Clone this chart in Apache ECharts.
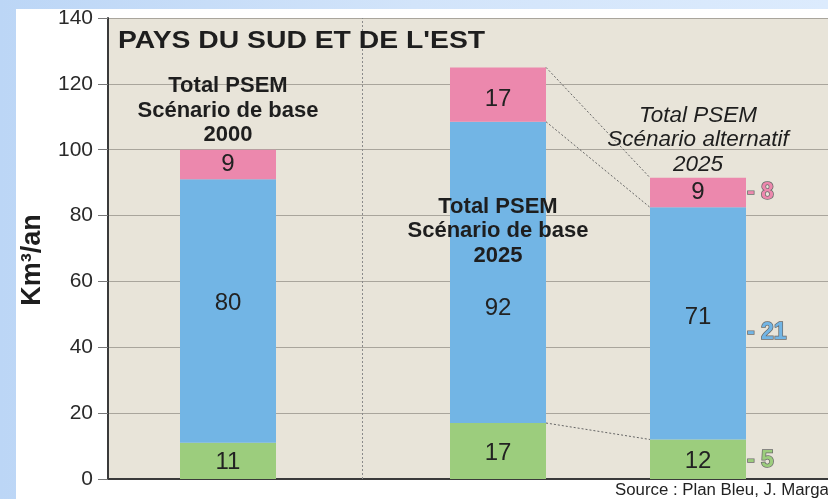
<!DOCTYPE html>
<html><head><meta charset="utf-8">
<script src="https://cdn.jsdelivr.net/npm/echarts@6/dist/echarts.min.js"></script>
<style>
html,body{margin:0;padding:0;}
body{width:828px;height:499px;background:linear-gradient(90deg,#bcd6f6 0%,#d2e4fa 50%,#dcebfd 100%);position:relative;overflow:hidden;}
#panel{position:absolute;left:16px;top:9px;right:0;bottom:0;background:#fff;}
#c{position:absolute;left:0;top:0;width:828px;height:499px;}
</style></head>
<body><div id="panel"></div><div id="c"></div>
<script>
// Data
const scenarios = ['Total PSEM\nScénario de base\n2000', 'Total PSEM\nScénario de base\n2025', 'Total PSEM\nScénario alternatif\n2025'];
const slot = [12, 39, 59];                 // slot index of each column on a 73-slot axis
const green = [11, 17, 12];
const blue = [80, 91.5, 70.5];
const pink = [9, 16.5, 9];
const yTicks = [0, 20, 40, 60, 80, 100, 120, 140];
const annotY = [111.8, 75.2, 103.0];
const diffs = ['- 8', '- 21', '- 5'];
const dividerSlot = 25.4;

const NSLOT = 73;
const slots = Array.from({length: NSLOT}, (_, i) => String(i));
const C_GREEN = '#9ccd7d', C_BLUE = '#72b5e5', C_PINK = '#ec88ad';
const FONT = '"Liberation Sans", Arial, sans-serif';
const HALF = 4.8; // half bar width in slots (96px / 10px per slot / 2)

const chart = echarts.init(document.getElementById('c'), null, {renderer: 'canvas'});

function barSeries(name, vals, color, offsets) {
  const data = slots.map(() => '-');
  vals.forEach((v, i) => { data[slot[i]] = {value: v, label: {offset: offsets[i]}}; });
  return {
    type: 'bar', name: name, stack: 'a', barWidth: 96, xAxisIndex: 0,
    itemStyle: {color: color},
    data: data,
    label: {
      show: true, position: 'inside', color: '#222', fontSize: 24, fontFamily: FONT,
      formatter: p => String(Math.round(p.value))
    },
    z: 3
  };
}

const base = [0, 1, 2].map(i => green[i]);
const mid = [0, 1, 2].map(i => green[i] + blue[i]);
const tops = [0, 1, 2].map(i => green[i] + blue[i] + pink[i]);

const dotted = {color: '#666', width: 1, type: [2, 2]};
const connectors = [
  [[slot[1] + HALF, tops[1]], [slot[2] - HALF, tops[2]]],
  [[slot[1] + HALF, mid[1]], [slot[2] - HALF, mid[2]]],
  [[slot[1] + HALF, base[1]], [slot[2] - HALF, base[2]]]
].map(d => ({type: 'line', xAxisIndex: 1, data: d, symbol: 'none', lineStyle: dotted, silent: true, z: 4}));

const sideColors = [C_PINK, C_BLUE, C_GREEN];
const sideY = [mid[2] + pink[2] / 2, green[2] + blue[2] / 2, green[2] / 2];
const sideOff = [0, 9, 1];

chart.setOption({
  animation: false,
  grid: {left: 108, right: 0, top: 18, bottom: 20, show: true, backgroundColor: '#e8e4d9', borderWidth: 0},
  xAxis: [{
    type: 'category', data: slots, boundaryGap: false,
    axisLine: {show: true, lineStyle: {color: '#3a3a3a', width: 2}},
    axisTick: {show: false}, axisLabel: {show: false}, splitLine: {show: false}
  }, {
    type: 'value', min: 0, max: NSLOT - 1, show: false
  }],
  yAxis: {
    type: 'value', min: yTicks[0], max: yTicks[yTicks.length - 1], interval: 20,
    axisLine: {show: true, lineStyle: {color: '#3a3a3a', width: 2}},
    axisTick: {show: true, length: 10, lineStyle: {color: '#777', width: 1}},
    axisLabel: {color: '#2a2a2a', fontSize: 21, fontFamily: FONT, margin: 15},
    splitLine: {show: true, lineStyle: {color: '#a9a59c', width: 1}}
  },
  series: [
    barSeries('green', green, C_GREEN, [[0, 1], [0, 2], [0, 2]]),
    barSeries('blue', blue, C_BLUE, [[0, -8], [0, 36], [0, -6]]),
    barSeries('pink', pink, C_PINK, [[0, 0], [0, 5], [0, 0]]),
    ...connectors,
    {
      type: 'line', xAxisIndex: 1, data: [], symbol: 'none',
      markLine: {
        silent: true, symbol: 'none', label: {show: false},
        lineStyle: {color: '#8a8a8a', width: 1, type: [2, 2]},
        data: [{xAxis: dividerSlot}]
      }
    },
    {
      type: 'scatter', xAxisIndex: 1, symbolSize: 0, silent: true, z: 6,
      itemStyle: {opacity: 1},
      data: scenarios.map((s, i) => ({
        value: [slot[i], annotY[i]],
        label: {
          show: true, position: 'inside', formatter: s, color: '#1e1e1e',
          fontSize: i === 2 ? 22.5 : 22,
          fontFamily: FONT, lineHeight: 24.5,
          fontWeight: i === 2 ? 'normal' : 'bold',
          fontStyle: i === 2 ? 'italic' : 'normal'
        }
      }))
    },
    {
      type: 'scatter', xAxisIndex: 1, symbolSize: 0, silent: true, z: 6,
      itemStyle: {opacity: 1},
      data: diffs.map((d, i) => ({
        value: [slot[2] + HALF + 0.1, sideY[i]],
        label: {
          show: true, position: 'right', distance: 0, formatter: d,
          offset: [0, sideOff[i]],
          color: sideColors[i], fontSize: 23, fontWeight: 'bold', fontFamily: FONT,
          textBorderColor: '#6a6a6a', textBorderWidth: 1.5
        }
      }))
    }
  ],
  graphic: [
    {type: 'text', x: 118, y: 41, scaleX: 1.18, z: 10,
     style: {text: "PAYS DU SUD ET DE L'EST", fill: '#1e1e1e', font: 'bold 24px ' + FONT, verticalAlign: 'middle'}},
    {type: 'text', x: 33, y: 260, rotation: Math.PI / 2, z: 10,
     style: {text: 'Km³/an', fill: '#1e1e1e', font: 'bold 27px ' + FONT, align: 'center', verticalAlign: 'middle'}},
    {type: 'text', x: 615, y: 491, scaleX: 1.05, z: 10,
     style: {text: 'Source : Plan Bleu, J. Margat', fill: '#222', font: '16px ' + FONT, verticalAlign: 'middle'}}
  ]
});
</script>
</body></html>
